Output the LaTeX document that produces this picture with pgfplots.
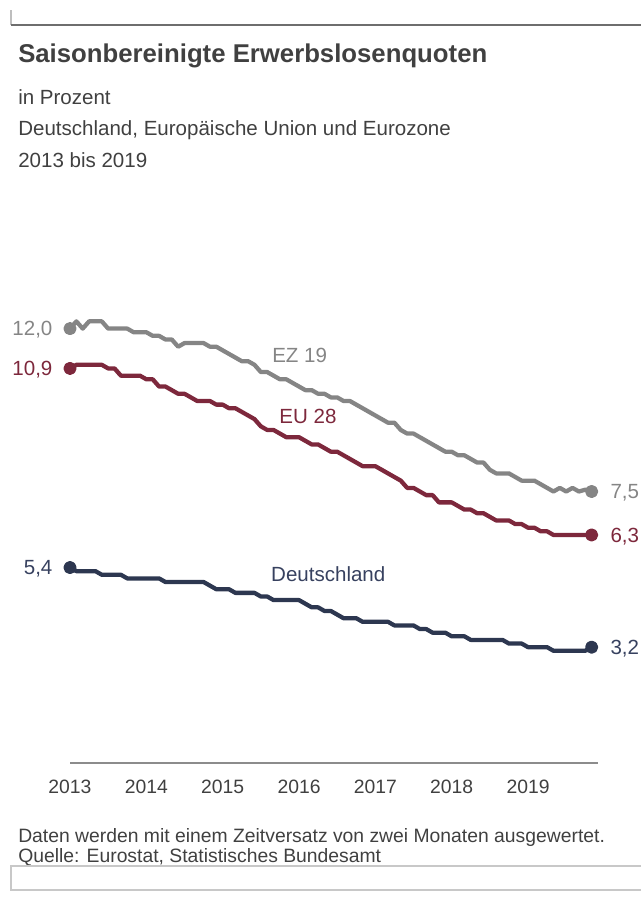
\documentclass[border=0pt]{standalone}
\usepackage{fontspec}
\setmainfont{Liberation Sans}
\usepackage{pgfplots}
\usepackage{pgfplotstable}
\pgfplotsset{compat=1.18}
\definecolor{ezgray}{RGB}{133,133,133}
\definecolor{eured}{RGB}{125,40,60}
\definecolor{denavy}{RGB}{45,55,80}
\definecolor{delab}{RGB}{55,65,95}
\definecolor{textdark}{RGB}{64,64,64}
\definecolor{axisgray}{RGB}{140,140,140}
\pgfplotstableread{
m de eu ez
0 5.4 10.9 12.0
1 5.3 11.0 12.2
2 5.3 11.0 12.0
3 5.3 11.0 12.2
4 5.3 11.0 12.2
5 5.2 11.0 12.2
6 5.2 10.9 12.0
7 5.2 10.9 12.0
8 5.2 10.7 12.0
9 5.1 10.7 12.0
10 5.1 10.7 11.9
11 5.1 10.7 11.9
12 5.1 10.6 11.9
13 5.1 10.6 11.8
14 5.1 10.4 11.8
15 5.0 10.4 11.7
16 5.0 10.3 11.7
17 5.0 10.2 11.5
18 5.0 10.2 11.6
19 5.0 10.1 11.6
20 5.0 10.0 11.6
21 5.0 10.0 11.6
22 4.9 10.0 11.5
23 4.8 9.9 11.5
24 4.8 9.9 11.4
25 4.8 9.8 11.3
26 4.7 9.8 11.2
27 4.7 9.7 11.1
28 4.7 9.6 11.1
29 4.7 9.5 11.0
30 4.6 9.3 10.8
31 4.6 9.2 10.8
32 4.5 9.2 10.7
33 4.5 9.1 10.6
34 4.5 9.0 10.6
35 4.5 9.0 10.5
36 4.5 9.0 10.4
37 4.4 8.9 10.3
38 4.3 8.8 10.3
39 4.3 8.8 10.2
40 4.2 8.7 10.2
41 4.2 8.6 10.1
42 4.1 8.6 10.1
43 4.0 8.5 10.0
44 4.0 8.4 10.0
45 4.0 8.3 9.9
46 3.9 8.2 9.8
47 3.9 8.2 9.7
48 3.9 8.2 9.6
49 3.9 8.1 9.5
50 3.9 8.0 9.4
51 3.8 7.9 9.4
52 3.8 7.8 9.2
53 3.8 7.6 9.1
54 3.8 7.6 9.1
55 3.7 7.5 9.0
56 3.7 7.4 8.9
57 3.6 7.4 8.8
58 3.6 7.2 8.7
59 3.6 7.2 8.6
60 3.5 7.2 8.6
61 3.5 7.1 8.5
62 3.5 7.0 8.5
63 3.4 7.0 8.4
64 3.4 6.9 8.3
65 3.4 6.9 8.3
66 3.4 6.8 8.1
67 3.4 6.7 8.0
68 3.4 6.7 8.0
69 3.3 6.7 8.0
70 3.3 6.6 7.9
71 3.3 6.6 7.8
72 3.2 6.5 7.8
73 3.2 6.5 7.8
74 3.2 6.4 7.7
75 3.2 6.4 7.6
76 3.1 6.3 7.5
77 3.1 6.3 7.6
78 3.1 6.3 7.5
79 3.1 6.3 7.6
80 3.1 6.3 7.5
81 3.1 6.3 7.55
82 3.2 6.3 7.5
}\datatable
\begin{document}
\begin{tikzpicture}
\useasboundingbox (0pt,0pt) rectangle (480.75pt,-675pt);
% top decoration
\draw[color={rgb,255:red,190;green,190;blue,190}, line width=0.8pt] (8.25pt,-7.5pt) -- (8.25pt,-18.75pt);
\draw[color={rgb,255:red,110;green,110;blue,110}, line width=1.1pt] (8.25pt,-18.75pt) -- (482pt,-18.75pt);
% titles
\node[anchor=base west, inner sep=0, text=textdark, font=\bfseries\fontsize{19.3}{23}\selectfont] at (13.5pt,-46.5pt) {Saisonbereinigte Erwerbslosenquoten};
\node[anchor=base west, inner sep=0, text=textdark, font=\fontsize{15.4}{18}\selectfont] at (13.5pt,-78pt) {in Prozent};
\node[anchor=base west, inner sep=0, text=textdark, font=\fontsize{15.4}{18}\selectfont] at (13.5pt,-101.25pt) {Deutschland, Europäische Union und Eurozone};
\node[anchor=base west, inner sep=0, text=textdark, font=\fontsize{15.4}{18}\selectfont] at (13.5pt,-125.25pt) {2013 bis 2019};
% footnote
\node[anchor=base west, inner sep=0, text=textdark, font=\fontsize{14.5}{16}\selectfont] at (13.5pt,-631.5pt) {Daten werden mit einem Zeitversatz von zwei Monaten ausgewertet.};
\node[anchor=base west, inner sep=0, text=textdark, font=\fontsize{14.5}{16}\selectfont] at (13.5pt,-646.5pt) {Quelle: Eurostat, Statistisches Bundesamt};
% bottom box
\draw[color={rgb,255:red,200;green,200;blue,200}, line width=0.8pt] (8.25pt,-649.5pt) rectangle (484pt,-667.5pt);
\begin{axis}[
  at={(52.5pt,-572.25pt)}, anchor=south west,
  scale only axis, width=396pt, height=380.1pt,
  xmin=0, xmax=83, ymin=0, ymax=14,
  clip=false,
  axis x line=bottom, axis y line=none,
  x axis line style={draw=axisgray, line width=2.2pt, -},
  xtick={0,12,24,36,48,60,72},
  xticklabels={2013,2014,2015,2016,2017,2018,2019},
  major tick length=0pt,
  xticklabel style={anchor=base, yshift=-23pt, font=\fontsize{14.5}{17}\selectfont, text=textdark},
  every axis plot/.append style={line width=3.2pt, line join=round, mark=*, mark indices={1,83}, mark size=3.3pt, mark options={solid}},
]
\addplot[color=ezgray] table[x=m, y=ez] {\datatable};
\addplot[color=eured] table[x=m, y=eu] {\datatable};
\addplot[color=denavy] table[x=m, y=de] {\datatable};
\node[anchor=base east, text=ezgray, inner sep=0, font=\fontsize{15.4}{18}\selectfont] at (axis cs:0,12.0) [xshift=-13pt, yshift=-5.5pt] {12,0};
\node[anchor=base east, text=eured, inner sep=0, font=\fontsize{15.4}{18}\selectfont] at (axis cs:0,10.9) [xshift=-13pt, yshift=-5.5pt] {10,9};
\node[anchor=base east, text=delab, inner sep=0, font=\fontsize{15.4}{18}\selectfont] at (axis cs:0,5.4) [xshift=-13pt, yshift=-5.5pt] {5,4};
\node[anchor=base west, text=ezgray, inner sep=0, font=\fontsize{15.4}{18}\selectfont] at (axis cs:82,7.5) [xshift=14pt, yshift=-5.5pt] {7,5};
\node[anchor=base west, text=eured, inner sep=0, font=\fontsize{15.4}{18}\selectfont] at (axis cs:82,6.3) [xshift=14pt, yshift=-5.5pt] {6,3};
\node[anchor=base west, text=delab, inner sep=0, font=\fontsize{15.4}{18}\selectfont] at (axis cs:82,3.2) [xshift=14pt, yshift=-5.5pt] {3,2};
\node[anchor=base, text=ezgray, inner sep=0, font=\fontsize{15.4}{18}\selectfont] at (axis cs:36.1,11.07) {EZ 19};
\node[anchor=base, text=eured, inner sep=0, font=\fontsize{15.4}{18}\selectfont] at (axis cs:37.4,9.38) {EU 28};
\node[anchor=base, text=delab, inner sep=0, font=\fontsize{15.4}{18}\selectfont] at (axis cs:40.6,5.02) {Deutschland};
\end{axis}
\end{tikzpicture}
\end{document}
